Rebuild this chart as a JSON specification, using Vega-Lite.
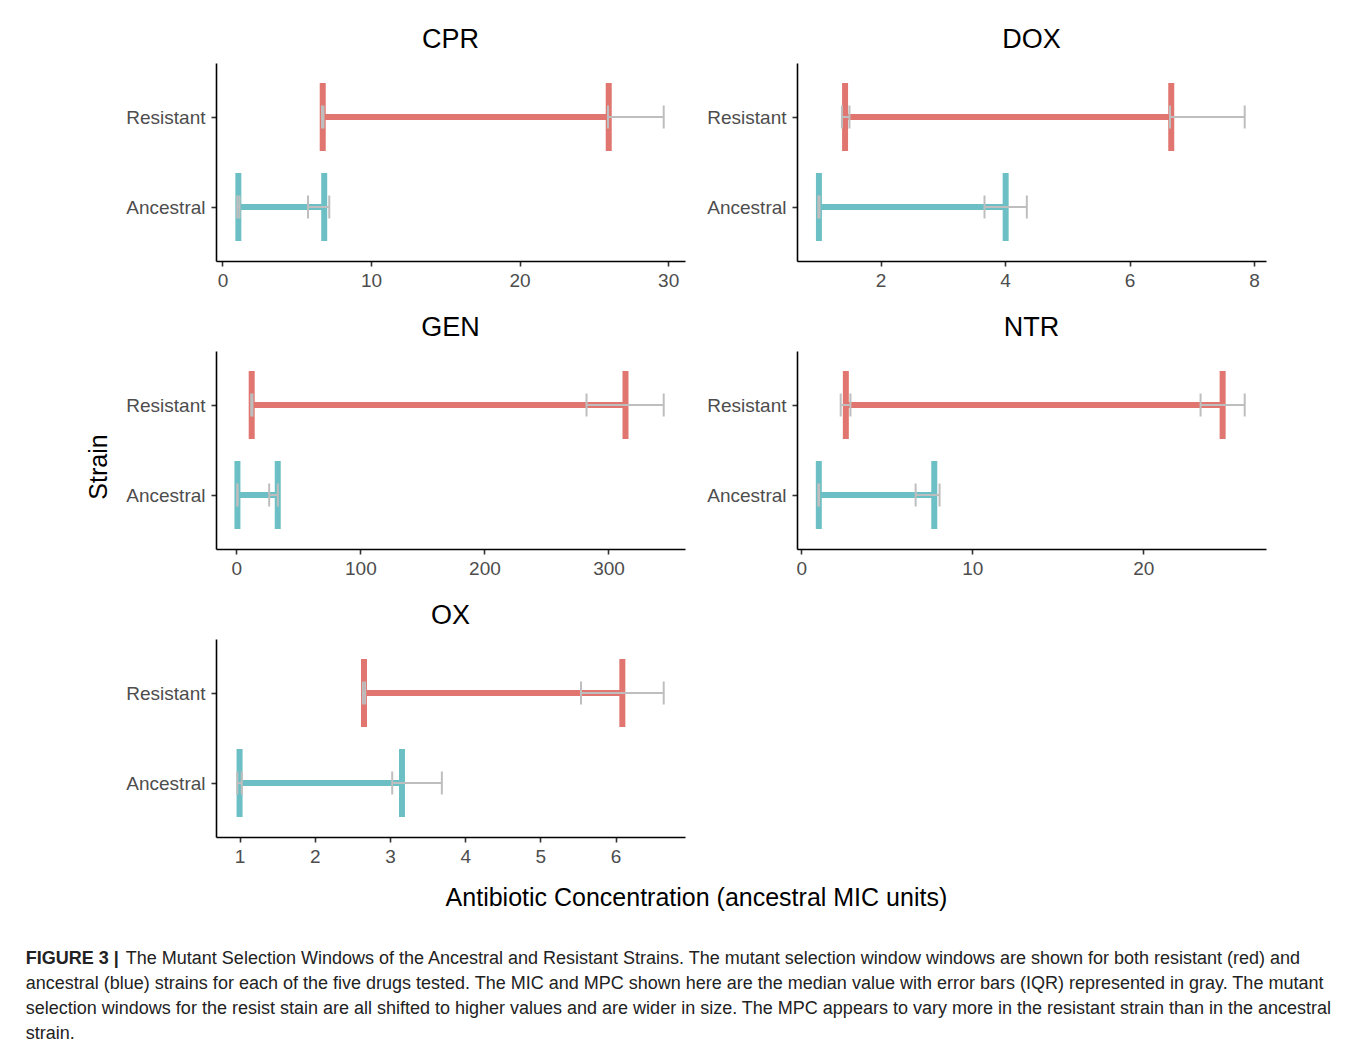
{
  "$schema": "https://vega.github.io/schema/vega-lite/v6.json",
  "background": "white",
  "padding": {"left": 25, "top": 26, "right": 5, "bottom": 5},
  "title": {
    "text": "FIGURE 3 |",
    "subtitle": [
      "\u200b\u00a0\u00a0\u00a0\u00a0\u00a0\u00a0\u00a0\u00a0\u00a0\u00a0\u00a0\u00a0\u00a0\u00a0\u00a0\u00a0\u00a0\u00a0\u00a0\u00a0The Mutant Selection Windows of the Ancestral and Resistant Strains. The mutant selection window windows are shown for both resistant (red) and",
      "ancestral (blue) strains for each of the five drugs tested. The MIC and MPC shown here are the median value with error bars (IQR) represented in gray. The mutant",
      "selection windows for the resist stain are all shifted to higher values and are wider in size. The MPC appears to vary more in the resistant strain than in the ancestral",
      "strain."
    ],
    "orient": "bottom", "anchor": "start", "frame": "bounds", "dx": -61, "offset": 39,
    "fontSize": 18, "fontWeight": "bold", "color": "#222", "lineHeight": 25,
    "subtitleFontSize": 18, "subtitleFontWeight": "normal", "subtitleColor": "#222", "subtitleLineHeight": 25, "subtitlePadding": -18
  },
  "datasets": {
    "msw": [
      {"drug": "CPR", "strain": "Resistant", "MIC": 6.75, "MIC_lo": 6.7, "MIC_hi": 6.8, "MPC": 26.0, "MPC_lo": 25.95, "MPC_hi": 29.7},
      {"drug": "CPR", "strain": "Ancestral", "MIC": 1.07, "MIC_lo": 1.0, "MIC_hi": 1.15, "MPC": 6.85, "MPC_lo": 5.76, "MPC_hi": 7.19},
      {"drug": "DOX", "strain": "Resistant", "MIC": 1.43, "MIC_lo": 1.38, "MIC_hi": 1.5, "MPC": 6.67, "MPC_lo": 6.65, "MPC_hi": 7.85},
      {"drug": "DOX", "strain": "Ancestral", "MIC": 1.01, "MIC_lo": 1.0, "MIC_hi": 1.02, "MPC": 4.01, "MPC_lo": 3.67, "MPC_hi": 4.35},
      {"drug": "GEN", "strain": "Resistant", "MIC": 12.4, "MIC_lo": 12.0, "MIC_hi": 13.0, "MPC": 313.7, "MPC_lo": 282.3, "MPC_hi": 344.5},
      {"drug": "GEN", "strain": "Ancestral", "MIC": 0.9, "MIC_lo": 0.8, "MIC_hi": 1.0, "MPC": 33.4, "MPC_lo": 26.5, "MPC_hi": 33.5},
      {"drug": "NTR", "strain": "Resistant", "MIC": 2.61, "MIC_lo": 2.31, "MIC_hi": 2.88, "MPC": 24.64, "MPC_lo": 23.35, "MPC_hi": 25.93},
      {"drug": "NTR", "strain": "Ancestral", "MIC": 1.03, "MIC_lo": 1.0, "MIC_hi": 1.05, "MPC": 7.78, "MPC_lo": 6.69, "MPC_hi": 8.09},
      {"drug": "OX", "strain": "Resistant", "MIC": 2.655, "MIC_lo": 2.64, "MIC_hi": 2.67, "MPC": 6.09, "MPC_lo": 5.54, "MPC_hi": 6.64},
      {"drug": "OX", "strain": "Ancestral", "MIC": 1.0, "MIC_lo": 0.97, "MIC_hi": 1.03, "MPC": 3.16, "MPC_lo": 3.03, "MPC_hi": 3.69}
    ]
  },
  "vconcat": [
    {
      "title": {"text": "Antibiotic Concentration (ancestral MIC units)", "orient": "bottom", "anchor": "middle", "frame": "bounds", "fontSize": 25, "fontWeight": "normal", "color": "#000", "dx": 20, "offset": 20},
      "vconcat": [
        {
          "title": {"text": "Strain", "orient": "left", "anchor": "middle", "frame": "bounds", "fontSize": 25, "fontWeight": "normal", "color": "#000", "offset": 14, "dx": -21},
          "columns": 2,
          "spacing": {"row": 24, "column": 21},
          "concat": [
            {
              "title": {"text": "CPR"},
              "width": 469, "height": 198,
              "data": {"name": "msw"},
              "transform": [{"filter": "datum.drug == 'CPR'"}],
              "encoding": {"y": {"field": "strain", "type": "nominal", "scale": {"type": "point", "domain": ["Resistant", "Ancestral"], "padding": 0.6}, "axis": {"title": null}}},
              "layer": [
                {"mark": {"type": "rule", "strokeWidth": 6}, "encoding": {"x": {"field": "MIC", "type": "quantitative", "scale": {"zero": false, "nice": false, "padding": 21.3}, "axis": {"title": null, "tickCount": 3}}, "x2": {"field": "MPC"}, "color": {"field": "strain", "type": "nominal", "scale": {"domain": ["Resistant", "Ancestral"], "range": ["#E0766F", "#6CC0C5"]}, "legend": null}}},
                {"transform": [{"fold": ["MIC", "MPC"], "as": ["k", "v"]}], "mark": {"type": "tick", "thickness": 6, "size": 68, "opacity": 1}, "encoding": {"x": {"field": "v", "type": "quantitative"}, "color": {"field": "strain", "type": "nominal", "legend": null}}},
                {"mark": {"type": "rule", "strokeWidth": 2, "color": "#BEBEBE"}, "encoding": {"x": {"field": "MIC_lo", "type": "quantitative"}, "x2": {"field": "MIC_hi"}}},
                {"mark": {"type": "rule", "strokeWidth": 2, "color": "#BEBEBE"}, "encoding": {"x": {"field": "MPC_lo", "type": "quantitative"}, "x2": {"field": "MPC_hi"}}},
                {"transform": [{"fold": ["MIC_lo", "MIC_hi", "MPC_lo", "MPC_hi"], "as": ["k", "v"]}], "mark": {"type": "tick", "thickness": 2, "size": 23, "color": "#BEBEBE", "opacity": 1}, "encoding": {"x": {"field": "v", "type": "quantitative"}}}
              ]
            },
            {
              "title": {"text": "DOX"},
              "width": 469, "height": 198,
              "data": {"name": "msw"},
              "transform": [{"filter": "datum.drug == 'DOX'"}],
              "encoding": {"y": {"field": "strain", "type": "nominal", "scale": {"type": "point", "domain": ["Resistant", "Ancestral"], "padding": 0.6}, "axis": {"title": null}}},
              "layer": [
                {"mark": {"type": "rule", "strokeWidth": 6}, "encoding": {"x": {"field": "MIC", "type": "quantitative", "scale": {"zero": false, "nice": false, "padding": 21.3}, "axis": {"title": null, "tickCount": 4}}, "x2": {"field": "MPC"}, "color": {"field": "strain", "type": "nominal", "scale": {"domain": ["Resistant", "Ancestral"], "range": ["#E0766F", "#6CC0C5"]}, "legend": null}}},
                {"transform": [{"fold": ["MIC", "MPC"], "as": ["k", "v"]}], "mark": {"type": "tick", "thickness": 6, "size": 68, "opacity": 1}, "encoding": {"x": {"field": "v", "type": "quantitative"}, "color": {"field": "strain", "type": "nominal", "legend": null}}},
                {"mark": {"type": "rule", "strokeWidth": 2, "color": "#BEBEBE"}, "encoding": {"x": {"field": "MIC_lo", "type": "quantitative"}, "x2": {"field": "MIC_hi"}}},
                {"mark": {"type": "rule", "strokeWidth": 2, "color": "#BEBEBE"}, "encoding": {"x": {"field": "MPC_lo", "type": "quantitative"}, "x2": {"field": "MPC_hi"}}},
                {"transform": [{"fold": ["MIC_lo", "MIC_hi", "MPC_lo", "MPC_hi"], "as": ["k", "v"]}], "mark": {"type": "tick", "thickness": 2, "size": 23, "color": "#BEBEBE", "opacity": 1}, "encoding": {"x": {"field": "v", "type": "quantitative"}}}
              ]
            },
            {
              "title": {"text": "GEN"},
              "width": 469, "height": 198,
              "data": {"name": "msw"},
              "transform": [{"filter": "datum.drug == 'GEN'"}],
              "encoding": {"y": {"field": "strain", "type": "nominal", "scale": {"type": "point", "domain": ["Resistant", "Ancestral"], "padding": 0.6}, "axis": {"title": null}}},
              "layer": [
                {"mark": {"type": "rule", "strokeWidth": 6}, "encoding": {"x": {"field": "MIC", "type": "quantitative", "scale": {"zero": false, "nice": false, "padding": 21.3}, "axis": {"title": null, "tickCount": 3}}, "x2": {"field": "MPC"}, "color": {"field": "strain", "type": "nominal", "scale": {"domain": ["Resistant", "Ancestral"], "range": ["#E0766F", "#6CC0C5"]}, "legend": null}}},
                {"transform": [{"fold": ["MIC", "MPC"], "as": ["k", "v"]}], "mark": {"type": "tick", "thickness": 6, "size": 68, "opacity": 1}, "encoding": {"x": {"field": "v", "type": "quantitative"}, "color": {"field": "strain", "type": "nominal", "legend": null}}},
                {"mark": {"type": "rule", "strokeWidth": 2, "color": "#BEBEBE"}, "encoding": {"x": {"field": "MIC_lo", "type": "quantitative"}, "x2": {"field": "MIC_hi"}}},
                {"mark": {"type": "rule", "strokeWidth": 2, "color": "#BEBEBE"}, "encoding": {"x": {"field": "MPC_lo", "type": "quantitative"}, "x2": {"field": "MPC_hi"}}},
                {"transform": [{"fold": ["MIC_lo", "MIC_hi", "MPC_lo", "MPC_hi"], "as": ["k", "v"]}], "mark": {"type": "tick", "thickness": 2, "size": 23, "color": "#BEBEBE", "opacity": 1}, "encoding": {"x": {"field": "v", "type": "quantitative"}}}
              ]
            },
            {
              "title": {"text": "NTR"},
              "width": 469, "height": 198,
              "data": {"name": "msw"},
              "transform": [{"filter": "datum.drug == 'NTR'"}],
              "encoding": {"y": {"field": "strain", "type": "nominal", "scale": {"type": "point", "domain": ["Resistant", "Ancestral"], "padding": 0.6}, "axis": {"title": null}}},
              "layer": [
                {"mark": {"type": "rule", "strokeWidth": 6}, "encoding": {"x": {"field": "MIC", "type": "quantitative", "scale": {"zero": false, "nice": false, "padding": 21.3}, "axis": {"title": null, "tickCount": 3}}, "x2": {"field": "MPC"}, "color": {"field": "strain", "type": "nominal", "scale": {"domain": ["Resistant", "Ancestral"], "range": ["#E0766F", "#6CC0C5"]}, "legend": null}}},
                {"transform": [{"fold": ["MIC", "MPC"], "as": ["k", "v"]}], "mark": {"type": "tick", "thickness": 6, "size": 68, "opacity": 1}, "encoding": {"x": {"field": "v", "type": "quantitative"}, "color": {"field": "strain", "type": "nominal", "legend": null}}},
                {"mark": {"type": "rule", "strokeWidth": 2, "color": "#BEBEBE"}, "encoding": {"x": {"field": "MIC_lo", "type": "quantitative"}, "x2": {"field": "MIC_hi"}}},
                {"mark": {"type": "rule", "strokeWidth": 2, "color": "#BEBEBE"}, "encoding": {"x": {"field": "MPC_lo", "type": "quantitative"}, "x2": {"field": "MPC_hi"}}},
                {"transform": [{"fold": ["MIC_lo", "MIC_hi", "MPC_lo", "MPC_hi"], "as": ["k", "v"]}], "mark": {"type": "tick", "thickness": 2, "size": 23, "color": "#BEBEBE", "opacity": 1}, "encoding": {"x": {"field": "v", "type": "quantitative"}}}
              ]
            },
            {
              "title": {"text": "OX"},
              "width": 469, "height": 198,
              "data": {"name": "msw"},
              "transform": [{"filter": "datum.drug == 'OX'"}],
              "encoding": {"y": {"field": "strain", "type": "nominal", "scale": {"type": "point", "domain": ["Resistant", "Ancestral"], "padding": 0.6}, "axis": {"title": null}}},
              "layer": [
                {"mark": {"type": "rule", "strokeWidth": 6}, "encoding": {"x": {"field": "MIC", "type": "quantitative", "scale": {"zero": false, "nice": false, "padding": 21.3}, "axis": {"title": null, "tickCount": 6}}, "x2": {"field": "MPC"}, "color": {"field": "strain", "type": "nominal", "scale": {"domain": ["Resistant", "Ancestral"], "range": ["#E0766F", "#6CC0C5"]}, "legend": null}}},
                {"transform": [{"fold": ["MIC", "MPC"], "as": ["k", "v"]}], "mark": {"type": "tick", "thickness": 6, "size": 68, "opacity": 1}, "encoding": {"x": {"field": "v", "type": "quantitative"}, "color": {"field": "strain", "type": "nominal", "legend": null}}},
                {"mark": {"type": "rule", "strokeWidth": 2, "color": "#BEBEBE"}, "encoding": {"x": {"field": "MIC_lo", "type": "quantitative"}, "x2": {"field": "MIC_hi"}}},
                {"mark": {"type": "rule", "strokeWidth": 2, "color": "#BEBEBE"}, "encoding": {"x": {"field": "MPC_lo", "type": "quantitative"}, "x2": {"field": "MPC_hi"}}},
                {"transform": [{"fold": ["MIC_lo", "MIC_hi", "MPC_lo", "MPC_hi"], "as": ["k", "v"]}], "mark": {"type": "tick", "thickness": 2, "size": 23, "color": "#BEBEBE", "opacity": 1}, "encoding": {"x": {"field": "v", "type": "quantitative"}}}
              ]
            }
          ]
        }
      ]
    }
  ],
  "config": {
    "view": {"stroke": null},
    "font": "Liberation Sans",
    "axis": {"domainColor": "#000", "domainWidth": 1.6, "tickColor": "#333", "tickWidth": 1.6, "tickSize": 5, "labelColor": "#4d4d4d", "labelFontSize": 19, "grid": false},
    "axisX": {"labelPadding": 5},
    "axisY": {"labelPadding": 6},
    "title": {"fontSize": 27, "fontWeight": "normal", "color": "#000", "frame": "group", "anchor": "middle", "offset": 9}
  }
}
